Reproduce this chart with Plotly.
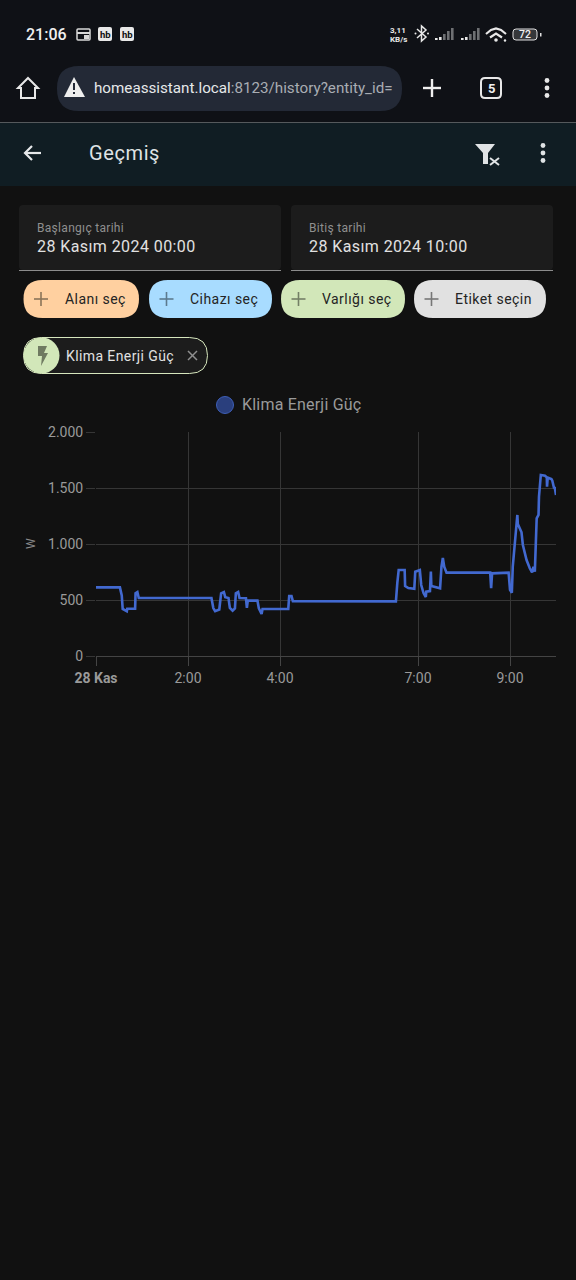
import plotly.graph_objects as go

W = 576
H = 1280

# values
hours = [0, 0.52, 0.56, 0.58, 0.67, 0.68, 0.85, 0.86, 0.90, 0.93, 2.51, 2.55, 2.59, 2.68, 2.72, 2.78,
         2.81, 2.88, 2.91, 2.97, 3.02, 3.04, 3.09, 3.12, 3.26, 3.28, 3.30, 3.51, 3.54, 3.60, 3.62,
         4.18, 4.20, 4.25, 4.28, 6.52, 6.55, 6.58, 6.71, 6.72, 6.79, 6.92, 6.94, 7.04, 7.07, 7.12,
         7.17, 7.18, 7.26, 7.28, 7.29, 7.48, 7.51, 7.54, 7.57, 7.62, 8.57, 8.59, 8.61, 8.97, 9.00,
         9.04, 9.06, 9.11, 9.16, 9.17, 9.23, 9.25, 9.28, 9.36, 9.43, 9.48, 9.51, 9.54, 9.58, 9.62,
         9.63, 9.67, 9.76, 9.80, 9.805, 9.82, 9.90, 9.92, 9.96, 9.97, 10.0]
watts = [613, 613, 540, 420, 400, 422, 422, 560, 571, 518, 518, 428, 400, 415, 560, 571,
         525, 518, 430, 405, 425, 560, 571, 518, 515, 430, 494, 494, 425, 375, 420,
         420, 536, 536, 490, 488, 650, 768, 768, 625, 607, 601, 753, 768, 634, 562,
         527, 574, 580, 753, 625, 605, 797, 875, 797, 744, 744, 605, 738, 744, 590,
         565, 797, 1036, 1259, 1178, 1110, 1105, 991, 857, 783, 746, 797, 753, 1229, 1259,
         1422, 1616, 1610, 1595, 1512, 1593, 1580, 1565, 1496, 1510, 1438]
x_ticks = [0, 2, 4, 7, 9]
x_labels = ["<b>28 Kas</b>", "2:00", "4:00", "7:00", "9:00"]
y_ticks = [0, 500, 1000, 1500, 2000]
y_labels = ["0", "500", "1.000", "1.500", "2.000"]
series_name = "Klima Enerji Güç"

BG = "#111111"
FONT = "Roboto"


def px(x):
    return x / W


def py(y):
    return 1 - y / H


def rrect(x0, y0, x1, y1, r, fill, line=None, width=1):
    path = (f"M {px(x0 + r)} {py(y0)} L {px(x1 - r)} {py(y0)} Q {px(x1)} {py(y0)} {px(x1)} {py(y0 + r)} "
            f"L {px(x1)} {py(y1 - r)} Q {px(x1)} {py(y1)} {px(x1 - r)} {py(y1)} "
            f"L {px(x0 + r)} {py(y1)} Q {px(x0)} {py(y1)} {px(x0)} {py(y1 - r)} "
            f"L {px(x0)} {py(y0 + r)} Q {px(x0)} {py(y0)} {px(x0 + r)} {py(y0)} Z")
    return dict(type="path", xref="paper", yref="paper", path=path, fillcolor=fill, layer="below",
                line=dict(color=line or "rgba(0,0,0,0)", width=width if line else 0))


def box(x0, y0, x1, y1, fill):
    return dict(type="rect", xref="paper", yref="paper", x0=px(x0), x1=px(x1), y0=py(y0), y1=py(y1),
                fillcolor=fill, line_width=0, layer="below")


def seg(x0, y0, x1, y1, color, width=2):
    return dict(type="line", xref="paper", yref="paper", x0=px(x0), x1=px(x1), y0=py(y0), y1=py(y1),
                line=dict(color=color, width=width), layer="below")


def poly(points, fill=None, line=None, width=2, close=True):
    path = "M " + " L ".join(f"{px(a)} {py(b)}" for a, b in points) + (" Z" if close else "")
    return dict(type="path", xref="paper", yref="paper", path=path, layer="below",
                fillcolor=fill or "rgba(0,0,0,0)",
                line=dict(color=line or "rgba(0,0,0,0)", width=width if line else 0))


def circle(cx, cy, r, fill, line=None, width=1):
    return dict(type="circle", xref="paper", yref="paper", x0=px(cx - r), x1=px(cx + r), y0=py(cy - r),
                y1=py(cy + r), fillcolor=fill, layer="below",
                line=dict(color=line or "rgba(0,0,0,0)", width=width if line else 0))


def label(x, y, text, size, color, anchor="left", weight=None, angle=0, spacing=0):
    if spacing:
        text = f"<span style='letter-spacing:{spacing}px'>{text}</span>"
    return dict(xref="paper", yref="paper", x=px(x), y=py(y), text=text, showarrow=False, xanchor=anchor,
                yanchor="middle", textangle=angle, borderpad=0,
                font=dict(family=FONT, size=size, color=color, weight=weight))


def dots(cx, cy, color):
    return [circle(cx, cy + d, 2.4, color) for d in (-7.5, 0, 7.5)]


def plus(cx, cy, r, color, width=2):
    return [seg(cx - r, cy, cx + r, cy, color, width), seg(cx, cy - r, cx, cy + r, color, width)]


shapes = []
notes = []

# status bar and browser bar
shapes.append(box(0, 0, W, 122, "#0f1116"))
shapes.append(box(0, 122, W, 123, "#55595c"))
shapes.append(box(0, 123, W, 186, "#101d23"))
notes.append(label(25, 34.5, "21:06", 16, "#f0f0f0", weight=500))
shapes.append(rrect(77, 29, 90, 40, 1, "rgba(0,0,0,0)", "#d8d8d8", 1.5))
shapes.append(box(77, 32, 90, 34, "#d8d8d8"))
shapes.append(box(84, 35, 89, 39, "#d8d8d8"))
for hb_x in (98, 120):
    shapes.append(rrect(hb_x, 27, hb_x + 14, 41, 2, "#e8e8e8"))
    notes.append(label(hb_x + 7, 34, "hb", 9.5, "#111111", anchor="center", weight=700))
notes.append(label(389, 30, "3,11", 8, "#e8e8e8", weight=700))
notes.append(label(389, 39, "KB/s", 8, "#e8e8e8", weight=700))
shapes.append(poly([(417, 29), (426, 37), (421.5, 41), (421.5, 26), (426, 30), (417, 38)], line="#e8e8e8", width=1.5, close=False))
shapes.append(circle(415.5, 33.5, 1, "#e8e8e8"))
shapes.append(circle(428, 33.5, 1, "#e8e8e8"))
for base in (435, 461):
    for i, (off, top) in enumerate(zip((0, 4, 8, 12, 16), (38, 37, 34, 31, 28))):
        shapes.append(box(base + off, top, base + off + 2.6, 40, "#e8e8e8" if i < 2 else "#6e7073"))
shapes.append(poly([(486, 34), (491, 30), (496, 28.5), (501, 30), (506, 34)], line="#e8e8e8", width=2.2, close=False))
shapes.append(poly([(490, 37.5), (496, 33.5), (502, 37.5)], line="#e8e8e8", width=2.2, close=False))
shapes.append(circle(496, 40, 1.8, "#e8e8e8"))
shapes.append(circle(505, 40.5, 1.2, "#e8e8e8"))
shapes.append(rrect(513, 29, 537, 40, 3, "#35373a", "#e0e0e0", 1))
shapes.append(box(540, 33, 541.5, 36.5, "#e0e0e0"))
notes.append(label(525, 34.5, "72", 10.5, "#f0f0f0", anchor="center", weight=500))

shapes.append(poly([(28, 78), (38, 88), (35, 88), (35, 98), (21, 98), (21, 88), (18, 88)], line="#e8e8e8", width=2))
shapes.append(rrect(57, 66, 402, 111, 22, "#232936"))
shapes.append(poly([(74, 77), (85, 97), (64, 97)], fill="#eeeeee"))
shapes.append(box(73, 83, 75, 90, "#232936"))
shapes.append(box(73, 92, 75, 94, "#232936"))
notes.append(label(93, 88, "homeassistant.local<span style='color:#a9adb3'>:8123/history?entity_id=</span>",
                   15.2, "#e6e8ea"))
shapes += plus(432, 88, 9, "#f0f0f0", 2.4)
shapes.append(rrect(481, 78, 501, 98, 4, "rgba(0,0,0,0)", "#e8e8e8", 2))
notes.append(label(491, 88.5, "5", 13, "#f0f0f0", anchor="center", weight=700))
shapes += dots(547, 88, "#e8e8e8")

# page header
shapes.append(poly([(41, 153), (25, 153)], line="#e6e8ea", width=2.2, close=False))
shapes.append(poly([(32, 146), (25, 153), (32, 160)], line="#e6e8ea", width=2.2, close=False))
notes.append(label(88, 153, "Geçmiş", 20, "#dfe3e5", spacing=0.6))
shapes.append(poly([(475, 144), (495, 144), (488, 153), (488, 164), (483, 164), (483, 153)], fill="#e0e3e5"))
shapes.append(seg(490, 158, 499, 165, "#e0e3e5", 2))
shapes.append(seg(499, 158, 490, 165, "#e0e3e5", 2))
shapes += dots(543, 153, "#dfe3e5")

# date pickers
for x0, x1, title, value in ((19, 281, "Başlangıç tarihi", "28 Kasım 2024 00:00"),
                             (291, 553, "Bitiş tarihi", "28 Kasım 2024 10:00")):
    shapes.append(rrect(x0, 205, x1, 270, 4, "#1c1c1c"))
    shapes.append(box(x0, 270, x1, 271, "#8c8c8c"))
    notes.append(label(x0 + 17, 228, title, 12, "#8f8f8f", spacing=0.3))
    notes.append(label(x0 + 17, 246.5, value, 16, "#e1e1e1", spacing=0.42))

# filter chips
for x0, x1, fill, plus_col, text, text_x in ((23.5, 139, "#ffd0a0", "#8a7358", "Alanı seç", 64),
                                             (149, 272, "#a8dcff", "#5c7a8e", "Cihazı seç", 189),
                                             (281, 405, "#d2e7b9", "#747f66", "Varlığı seç", 321),
                                             (414, 546, "#e1e1e1", "#777777", "Etiket seçin", 454)):
    shapes.append(rrect(x0, 280, x1, 318, 19, fill))
    shapes += plus(x0 + 17.5, 299, 7, plus_col, 1.6)
    notes.append(label(text_x, 299, text, 14, "#242424", spacing=0.45))

# selected entity chip
shapes.append(rrect(23.5, 337.5, 207.5, 373.5, 18, "#1c1c1c", "#d6e6bd", 1))
shapes.append(circle(41.5, 355.5, 18, "#d2e7b9"))
shapes.append(poly([(38, 346), (47, 346), (44, 353), (48, 353), (41, 366), (42, 356), (38, 356)], fill="#6f7a61"))
notes.append(label(65, 355.5, series_name, 14, "#e1e1e1", spacing=0.4))
shapes.append(seg(188, 351, 197, 360, "#8f8f8f", 1.5))
shapes.append(seg(197, 351, 188, 360, "#8f8f8f", 1.5))

# legend
shapes.append(circle(225, 405, 8.5, "#2a3f7d", "#3e5fb8", 1))
notes.append(label(240.5, 404.5, series_name, 16, "#9a9a9a", spacing=0.2))
notes.append(label(31, 544, "W", 12, "#8a8a8a", anchor="center", angle=-90))

fig = go.Figure(go.Scatter(x=hours, y=watts, mode="lines", name=series_name,
                           line=dict(color="#4269d0", width=2.6), hoverinfo="skip"))
fig.update_layout(
    width=W,
    height=H,
    margin=dict(l=0, r=0, t=0, b=0, autoexpand=False),
    paper_bgcolor=BG,
    plot_bgcolor=BG,
    showlegend=False,
    font=dict(family=FONT, color="#9a9a9a", size=14),
    shapes=shapes,
    annotations=notes,
)
fig.update_xaxes(domain=[px(96), px(556)], range=[0, 10], tickmode="array", tickvals=x_ticks, ticktext=x_labels,
                 automargin=False, showgrid=True, gridcolor="#363636", gridwidth=1, zeroline=False, showline=True,
                 linecolor="#444444", ticks="outside", ticklen=9, tickcolor="#444444", anchor="y")
fig.update_yaxes(domain=[py(656), py(432)], range=[0, 2000], tickmode="array", tickvals=y_ticks, ticktext=y_labels,
                 automargin=False, showgrid=True, gridcolor="#363636", gridwidth=1, zeroline=False, showline=False,
                 ticks="outside", ticklen=9, tickcolor="#363636", anchor="x")

fig.write_html("out.html", config=dict(displayModeBar=False),
               post_script="document.body.style.margin='0';document.body.style.background='#111111';")
